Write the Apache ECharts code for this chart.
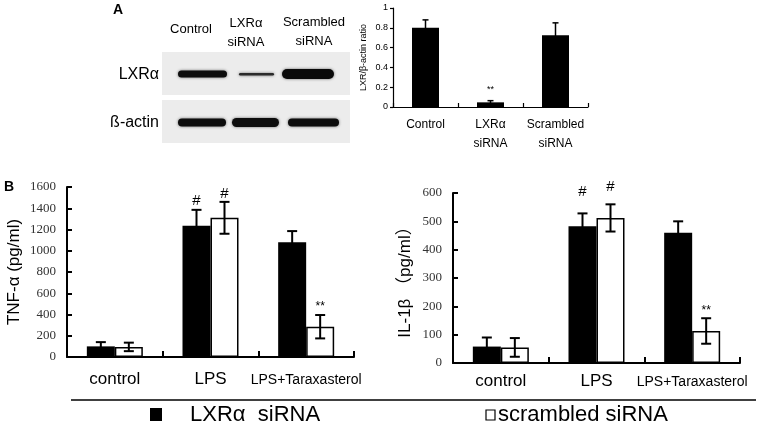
<!DOCTYPE html>
<html lang="en">
<head>
<meta charset="UTF-8">
<title>LXRα siRNA - TNF-α / IL-1β</title>
<script src="https://cdn.jsdelivr.net/npm/echarts@6/dist/echarts.min.js"></script>
<style>
    html, body { margin: 0; padding: 0; background: #fff; }
    #main { width: 762px; height: 423px; }
</style>
</head>
<body>
<div id="main"></div>
<script>
// panel A - densitometry ratio
var ratioCats = ['Control', 'LXRα\nsiRNA', 'Scrambled\nsiRNA'];
var ratioVals = [0.80, 0.047, 0.725];
var ratioErrs = [0.08, 0.017, 0.125];
var ratioMarks = ['', '**', ''];

// panel B - cytokines
var groups = ['control', 'LPS', 'LPS+Taraxasterol'];

var tnfLxr = [100, 1235, 1080];
var tnfLxrErr = [40, 150, 105];
var tnfLxrMarks = ['', '#', ''];
var tnfScr = [95, 1310, 285];
var tnfScrErr = [40, 150, 110];
var tnfScrMarks = ['', '#', '**'];

var ilLxr = [58, 483, 460];
var ilLxrErr = [32, 45, 40];
var ilLxrMarks = ['', '#', ''];
var ilScr = [55, 512, 113];
var ilScrErr = [33, 48, 45];
var ilScrMarks = ['', '#', '**'];

var SANS = 'Liberation Sans, Arial, Noto Sans CJK SC, sans-serif';
var SERIF = 'Liberation Serif, Times New Roman, serif';

// error bars + significance marks, drawn through the axes
function errBars(ax, vals, errs, marks, shift, cap, lw, gaps, sizes) {
    return {
        type: 'custom',
        xAxisIndex: ax,
        yAxisIndex: ax,
        z: 10,
        silent: true,
        data: vals.map(function (v, i) { return [i, v, errs[i]]; }),
        renderItem: function (params, api) {
            var i = api.value(0), v = api.value(1), e = api.value(2);
            var x = api.coord([i, v])[0] + shift;
            var yt = api.coord([i, v + e])[1];
            var yb = api.coord([i, Math.max(v - e, 0)])[1];
            var st = { stroke: '#000', lineWidth: lw };
            var kids = [
                { type: 'line', shape: { x1: x, y1: yt, x2: x, y2: yb }, style: st },
                { type: 'line', shape: { x1: x - cap, y1: yt, x2: x + cap, y2: yt }, style: st },
                { type: 'line', shape: { x1: x - cap, y1: yb, x2: x + cap, y2: yb }, style: st }
            ];
            var m = marks[params.dataIndex];
            if (m) {
                kids.push({
                    type: 'text',
                    style: {
                        text: m, x: x, y: yt - gaps[m],
                        align: 'center', verticalAlign: 'middle',
                        fontSize: sizes[m], fontFamily: SANS, fill: '#000'
                    }
                });
            }
            return { type: 'group', children: kids };
        }
    };
}

function catLabel(v, i) {
    return i === 2 ? '{s|' + v + '}' : '{b|' + v + '}';
}
var catRich = {
    b: { fontSize: 17, fontFamily: SANS, color: '#000' },
    s: { fontSize: 14, fontFamily: SANS, color: '#000', padding: [2, 0, 0, 0] }
};

function bAxisY(ax, max, step, name, gap) {
    return {
        gridIndex: ax, type: 'value', min: 0, max: max, interval: step,
        name: name, nameLocation: 'middle', nameGap: gap, nameRotate: 90,
        nameTextStyle: { fontFamily: SANS, fontSize: 17, color: '#000' },
        axisLine: { show: true, lineStyle: { color: '#000', width: 2 } },
        axisTick: { show: true, inside: true, length: 5, lineStyle: { color: '#000', width: 2 } },
        axisLabel: {
            fontFamily: SERIF, fontSize: 13, color: '#333', margin: 11,
            formatter: function (v) { return String(v); }
        },
        splitLine: { show: false }
    };
}

function bAxisX(ax, margin) {
    return {
        gridIndex: ax, type: 'category', data: groups,
        axisLine: { show: true, lineStyle: { color: '#000', width: 2 } },
        axisTick: { show: true, inside: true, length: 6, interval: 0, lineStyle: { color: '#000', width: 2 } },
        axisLabel: { interval: 0, margin: margin, formatter: catLabel, rich: catRich },
        splitLine: { show: false }
    };
}

// western blot picture (not data)
var blotBands = [
    [178, 70.5, 49, 7, '#0d0d0d'],
    [239, 73, 35, 2.5, '#2a2a2a'],
    [282, 69, 52, 10, '#0a0a0a'],
    [178, 118.5, 48, 8, '#0d0d0d'],
    [232, 118, 47, 9, '#0d0d0d'],
    [288, 118.5, 51, 8, '#0d0d0d']
];

var graphics = [
    { type: 'text', left: 113, top: 3, style: { text: 'A', font: 'bold 14px ' + SANS, fill: '#000' } },
    { type: 'text', x: 191, y: 29, style: { text: 'Control', align: 'center', verticalAlign: 'middle', font: '13px ' + SANS, fill: '#000' } },
    { type: 'text', x: 246, y: 23, style: { text: 'LXRα', align: 'center', verticalAlign: 'middle', font: '13px ' + SANS, fill: '#000' } },
    { type: 'text', x: 246, y: 42, style: { text: 'siRNA', align: 'center', verticalAlign: 'middle', font: '13px ' + SANS, fill: '#000' } },
    { type: 'text', x: 314, y: 22, style: { text: 'Scrambled', align: 'center', verticalAlign: 'middle', font: '13px ' + SANS, fill: '#000' } },
    { type: 'text', x: 314, y: 41, style: { text: 'siRNA', align: 'center', verticalAlign: 'middle', font: '13px ' + SANS, fill: '#000' } },
    { type: 'text', x: 159, y: 75, style: { text: 'LXRα', align: 'right', verticalAlign: 'middle', font: '16px ' + SANS, fill: '#000' } },
    { type: 'text', x: 159, y: 123, style: { text: 'ß-actin', align: 'right', verticalAlign: 'middle', font: '16px ' + SANS, fill: '#000' } },
    { type: 'rect', shape: { x: 162, y: 52, width: 188, height: 43 }, style: { fill: '#ececec' } },
    { type: 'rect', shape: { x: 162, y: 100, width: 188, height: 43 }, style: { fill: '#ececec' } },
    { type: 'text', left: 4, top: 180, style: { text: 'B', font: 'bold 14px ' + SANS, fill: '#000' } },
    { type: 'line', shape: { x1: 71, y1: 400, x2: 756, y2: 400 }, style: { stroke: '#000', lineWidth: 1.5 } },
    { type: 'rect', shape: { x: 150, y: 408, width: 12, height: 13 }, style: { fill: '#000' } },
    { type: 'text', x: 190, y: 415, style: { text: 'LXRα  siRNA', verticalAlign: 'middle', font: '22px ' + SANS, fill: '#000' } },
    { type: 'rect', shape: { x: 486, y: 410, width: 9, height: 10 }, style: { fill: '#fff', stroke: '#000', lineWidth: 1.2 } },
    { type: 'text', x: 498, y: 415, style: { text: 'scrambled siRNA', verticalAlign: 'middle', font: '22px ' + SANS, fill: '#000' } }
];
blotBands.forEach(function (b) {
    graphics.push({
        type: 'rect', z: 101,
        shape: { x: b[0], y: b[1], width: b[2], height: b[3], r: b[3] / 2 },
        style: { fill: b[4], shadowBlur: 3, shadowColor: 'rgba(0,0,0,0.55)' }
    });
});

var myChart = echarts.init(document.getElementById('main'));

var option = {
    animation: false,
    backgroundColor: '#fff',
    textStyle: { fontFamily: SANS },
    graphic: graphics,
    grid: [
        { left: 393, top: 8, width: 195, height: 99, outerBoundsMode: 'none' },
        { left: 67, top: 187, width: 287, height: 170, outerBoundsMode: 'none' },
        { left: 453, top: 193, width: 287, height: 170, outerBoundsMode: 'none' }
    ],
    xAxis: [
        {
            gridIndex: 0, type: 'category', data: ratioCats,
            axisLine: { show: true, lineStyle: { color: '#000', width: 1.2 } },
            axisTick: { show: true, inside: true, length: 4, interval: 0, lineStyle: { color: '#000', width: 1.2 } },
            axisLabel: { interval: 0, margin: 8, fontSize: 12, lineHeight: 19, fontFamily: SANS, color: '#000' },
            splitLine: { show: false }
        },
        bAxisX(1, 14),
        bAxisX(2, 10)
    ],
    yAxis: [
        {
            gridIndex: 0, type: 'value', min: 0, max: 1, interval: 0.2,
            name: 'LXR/β-actin ratio', nameLocation: 'middle', nameGap: 25, nameRotate: 90,
            nameTextStyle: { fontFamily: SANS, fontSize: 9, color: '#000' },
            axisLine: { show: true, lineStyle: { color: '#000', width: 1.2 } },
            axisTick: { show: true, length: 3, lineStyle: { color: '#000', width: 1.2 } },
            axisLabel: { fontFamily: SANS, fontSize: 9, color: '#000', margin: 5 },
            splitLine: { show: false }
        },
        bAxisY(1, 1600, 200, 'TNF-α (pg/ml)', 44),
        bAxisY(2, 600, 100, 'IL-1β （pg/ml）', 39)
    ],
    series: [
        { type: 'bar', xAxisIndex: 0, yAxisIndex: 0, data: ratioVals, barWidth: 27, itemStyle: { color: '#000' } },
        errBars(0, ratioVals, ratioErrs, ratioMarks, 0, 3, 1.5, { '**': 11 }, { '**': 9 }),

        { type: 'bar', xAxisIndex: 1, yAxisIndex: 1, data: tnfLxr, barWidth: 28, barGap: '0%', itemStyle: { color: '#000' } },
        { type: 'bar', xAxisIndex: 1, yAxisIndex: 1, data: tnfScr, barWidth: 28, barGap: '0%',
          itemStyle: { color: '#fff', borderColor: '#000', borderWidth: 1.5 } },
        errBars(1, tnfLxr, tnfLxrErr, tnfLxrMarks, -14, 5, 2, { '#': 9, '**': 8 }, { '#': 15, '**': 12 }),
        errBars(1, tnfScr, tnfScrErr, tnfScrMarks, 14, 5, 2, { '#': 8, '**': 8 }, { '#': 15, '**': 12 }),

        { type: 'bar', xAxisIndex: 2, yAxisIndex: 2, data: ilLxr, barWidth: 28, barGap: '0%', itemStyle: { color: '#000' } },
        { type: 'bar', xAxisIndex: 2, yAxisIndex: 2, data: ilScr, barWidth: 28, barGap: '0%',
          itemStyle: { color: '#fff', borderColor: '#000', borderWidth: 1.5 } },
        errBars(2, ilLxr, ilLxrErr, ilLxrMarks, -14, 5, 2, { '#': 22, '**': 8 }, { '#': 15, '**': 12 }),
        errBars(2, ilScr, ilScrErr, ilScrMarks, 14, 5, 2, { '#': 17, '**': 8 }, { '#': 15, '**': 12 })
    ]
};

myChart.setOption(option);
</script>
</body>
</html>
